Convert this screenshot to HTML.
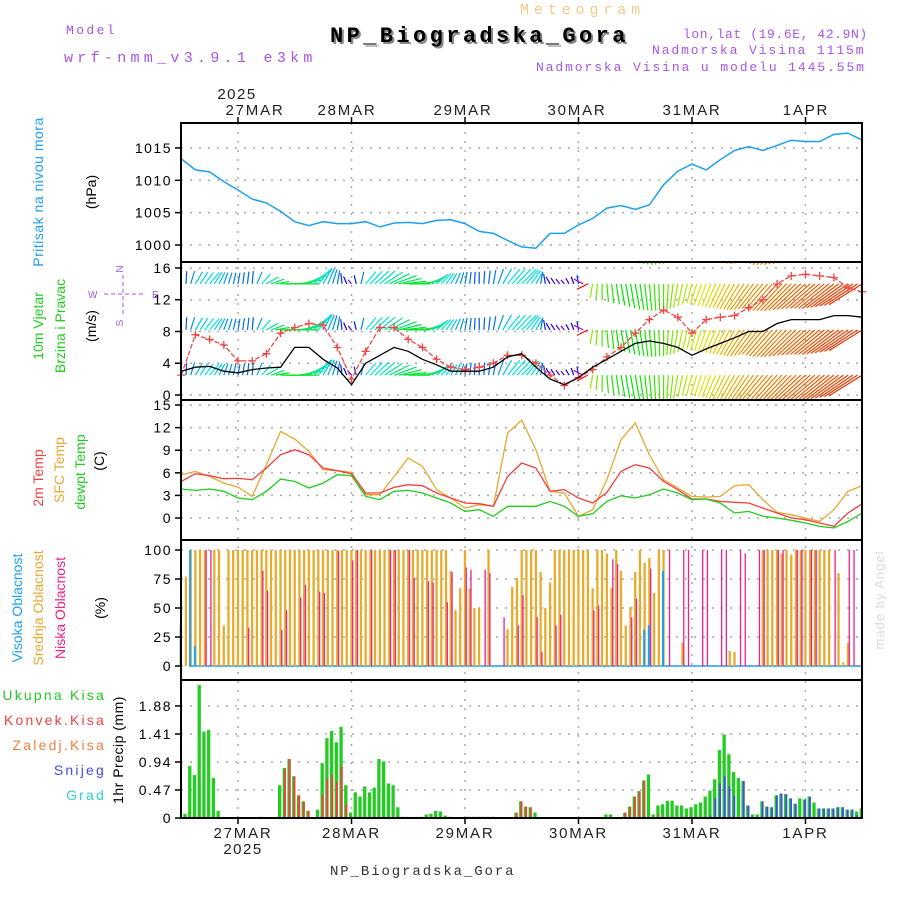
<!DOCTYPE html>
<html><head><meta charset="utf-8">
<style>
html,body{margin:0;padding:0;background:#fff;}
svg{display:block;}
text{font-family:"Liberation Sans",sans-serif;}
.mono{font-family:"Liberation Mono",monospace;}
</style></head>
<body>
<svg id="chart" xmlns="http://www.w3.org/2000/svg" width="900" height="900" viewBox="0 0 900 900">
<defs>
<clipPath id="clipWind"><rect x="181" y="262" width="681" height="138"/></clipPath>
</defs>
<g>
<text class="mono" x="66" y="34" fill="#a855e8" font-size="13" letter-spacing="2.4">Model</text>
<text class="mono" x="64" y="62" fill="#a855e8" font-size="15" letter-spacing="4.3">wrf-nmm_v3.9.1 e3km</text>
<text class="mono" x="520" y="14" fill="#f2c98a" font-size="15" letter-spacing="4.9">Meteogram</text>
<text class="mono" x="332" y="44" fill="#888" font-size="22" font-weight="bold" letter-spacing="3.4">NP_Biogradska_Gora</text>
<text class="mono" x="330" y="42" fill="#000" font-size="22" font-weight="bold" letter-spacing="3.4">NP_Biogradska_Gora</text>
<text class="mono" x="683" y="38" fill="#a855e8" font-size="13" letter-spacing="0.6">lon,lat (19.6E, 42.9N)</text>
<text class="mono" x="652" y="54" fill="#a855e8" font-size="13" letter-spacing="1.9">Nadmorska Visina 1115m</text>
<text class="mono" x="536" y="71" fill="#a855e8" font-size="13" letter-spacing="1.9">Nadmorska Visina u modelu 1445.55m</text>
<text x="237" y="99" fill="#222" font-size="15" text-anchor="middle" letter-spacing="1.5">2025</text>
<text x="243" y="854" fill="#222" font-size="15" text-anchor="middle" letter-spacing="1.5">2025</text>
<text class="mono" x="330" y="875" fill="#333" font-size="14" letter-spacing="1.9">NP_Biogradska_Gora</text>
<text transform="translate(884,600) rotate(-90)" fill="#d8dcd8" font-size="13" text-anchor="middle" letter-spacing="1">made by Angel</text>
</g>
<g font-size="14">
<text transform="translate(43,192) rotate(-90)" fill="#1e9ff0" text-anchor="middle" letter-spacing="0.5">Pritisak na nivou mora</text>
<text transform="translate(96,192) rotate(-90)" fill="#000" text-anchor="middle">(hPa)</text>
<text transform="translate(43,326) rotate(-90)" fill="#22cc22" text-anchor="middle">10m Vjetar</text>
<text transform="translate(65,326) rotate(-90)" fill="#22cc22" text-anchor="middle">Brzina i Pravac</text>
<text transform="translate(96,326) rotate(-90)" fill="#000" text-anchor="middle">(m/s)</text>
<g fill="#a855e8" font-size="10">
<text x="123" y="269" text-anchor="middle" transform="rotate(-90 123 269)">N</text>
<text x="88" y="298">W</text>
<text x="152" y="298">E</text>
<text x="123" y="323" text-anchor="middle" transform="rotate(-90 123 323)">S</text>
<line x1="104" y1="294" x2="146" y2="294" stroke="#a855e8" stroke-dasharray="4,3"/>
<line x1="123" y1="275" x2="123" y2="316" stroke="#a855e8" stroke-dasharray="4,3"/>
</g>
<text transform="translate(43,478) rotate(-90)" fill="#f04040" text-anchor="middle">2m Temp</text>
<text transform="translate(64,470) rotate(-90)" fill="#e8a830" text-anchor="middle">SFC Temp</text>
<text transform="translate(85,472) rotate(-90)" fill="#22cc22" text-anchor="middle">dewpt Temp</text>
<text transform="translate(104,461) rotate(-90)" fill="#000" text-anchor="middle">(C)</text>
<text transform="translate(22,608) rotate(-90)" fill="#1e9ff0" text-anchor="middle">Visoka Oblacnost</text>
<text transform="translate(43,608) rotate(-90)" fill="#e8a830" text-anchor="middle">Srednja Oblacnost</text>
<text transform="translate(65,608) rotate(-90)" fill="#f0208a" text-anchor="middle">Niska Oblacnost</text>
<text transform="translate(105,608) rotate(-90)" fill="#000" text-anchor="middle">(%)</text>
<text transform="translate(123,750) rotate(-90)" fill="#000" text-anchor="middle" letter-spacing="0.5">1hr Precip (mm)</text>
<g text-anchor="end" letter-spacing="2.2">
<text x="106" y="700" fill="#22cc22">Ukupna Kisa</text>
<text x="106" y="725" fill="#f04040">Konvek.Kisa</text>
<text x="106" y="750" fill="#f08040">Zaledj.Kisa</text>
<text x="106" y="775" fill="#4848f0">Snijeg</text>
<text x="106" y="800" fill="#30d0d0">Grad</text>
</g>
</g>
<g id="grid"></g>
<g id="marks"></g>
<g id="frame"></g>
</svg>
<script>
// ---- time axis (hours from 27MAR 00Z) ----
const dayLabels = ["27MAR","28MAR","29MAR","30MAR","31MAR","1APR"];
const dayLabelTopX = [255,347,463,577,692,806];
const t3Start = -12, t3Step = 3;
// ---- pressure (hPa), every 3h ----
const pressure = [1013.3,1011.6,1011.3,1009.8,1008.5,1007.1,1006.5,1005.2,1003.6,1003.0,1003.6,1003.3,1003.3,1003.6,1002.8,1003.4,1003.5,1003.3,1003.8,1003.9,1003.3,1002.1,1001.8,1000.7,999.7,999.5,1001.8,1001.8,1003.1,1004.1,1005.7,1006.1,1005.5,1006.2,1009.3,1011.4,1012.5,1011.6,1013.2,1014.6,1015.2,1014.6,1015.4,1016.2,1016.0,1016.0,1017.1,1017.3,1016.2];
const pressureTicks = [1000,1005,1010,1015];
// ---- wind ----
const windSpeed = [3.0,3.5,3.6,3.0,2.8,3.2,3.4,3.5,6.0,6.0,4.5,3.4,1.3,4.0,5.0,6.0,5.5,4.5,3.8,3.0,3.0,3.0,3.5,4.8,5.2,3.5,2.0,1.3,2.2,3.5,4.5,5.5,6.5,6.8,6.5,6.0,5.0,5.8,6.5,7.2,8.0,8.0,9.0,9.5,9.5,9.5,10,10,9.8];
const windGust = [2.5,7.6,7.0,6.3,4.3,4.3,5.2,7.8,8.5,9.0,8.8,6.0,2.0,5.5,8.5,8.5,7.0,6.0,4.5,3.5,3.2,3.5,4.0,5.0,5.0,4.0,2.5,1.2,2.2,3.2,4.8,6.0,7.8,9.5,10.7,9.8,7.8,9.5,9.8,10.0,11.0,12.0,14.0,15.0,15.2,15.0,14.8,13.5,13.0];
const windDir = [350,30,40,20,10,5,60,90,90,60,30,10,320,40,50,70,90,80,50,30,10,0,10,40,45,30,330,320,350,190,175,170,170,175,180,190,195,200,205,210,215,220,222,225,228,230,232,235,238];
const windTicks = [0,4,8,12,16];
const windRowLevels = [2.5,8.2,14.0,19.8];
// ---- temperature (C), every 3h ----
const temp2m = [4.86,5.88,5.62,5.22,5.26,5.09,6.64,8.41,9.07,8.41,6.64,6.28,5.88,3.32,3.32,4.07,4.42,4.29,3.32,2.65,1.99,1.90,1.55,5.53,7.30,6.64,3.54,3.76,2.65,1.99,3.40,6.19,7.08,6.64,4.86,3.76,2.52,2.52,2.21,2.08,1.99,1.32,0.66,0.0,-0.23,-0.67,-1.11,0.66,1.90];
const tempSfc = [5.75,6.19,5.53,4.64,4.11,2.87,7.08,11.5,10.49,8.85,6.41,6.28,6.06,3.09,3.09,5.53,7.96,6.86,3.76,2.65,1.32,1.77,1.55,11.28,13.0,9.07,3.54,3.32,0.22,1.10,5.09,10.40,12.61,8.41,5.09,3.98,2.87,2.78,2.87,4.29,4.42,2.43,0.75,0.44,0.0,-0.45,1.10,3.54,4.29];
const tempDew = [3.85,3.67,3.85,3.54,2.65,2.43,3.54,5.17,4.86,3.98,4.64,5.75,5.62,2.87,2.43,3.54,3.67,3.32,2.65,1.99,0.88,1.10,0.22,1.55,1.55,1.55,2.21,1.55,0.22,0.57,2.21,2.96,2.65,3.09,3.85,3.32,2.43,2.52,1.99,0.66,0.88,0.22,0.0,-0.31,-0.67,-1.11,-1.33,-0.45,0.66];
const tempTicks = [0,3,6,9,12,15];
// ---- clouds (%), hourly from t=-12 ----
const cloudHigh = [35,0,100,17,0,0,0,0,0,0,0,0,0,0,0,0,0,0,0,0,0,0,0,0,0,0,0,0,0,0,0,0,0,0,0,0,0,0,0,0,0,0,0,0,0,0,0,0,0,0,0,0,0,0,0,0,0,0,0,0,0,0,0,0,0,0,0,0,0,0,0,0,0,0,0,0,0,0,0,0,0,0,0,0,0,0,0,0,0,0,0,0,0,0,0,0,0,0,31,35,0,0,82,0,0,0,0,0,0,0,0,0,0,0,0,0,0,0,0,0,0,0,0,0,0,0,0,0,0,0,0,0,0,0,0,0,0,0,0,0,0,0,0,0,0];
const cloudMid = [0,77,100,100,100,100,0,100,100,35,100,100,100,100,100,100,100,100,100,100,100,100,100,100,100,100,100,100,100,100,100,100,100,100,100,100,100,100,100,100,100,100,100,100,100,100,100,100,100,100,100,100,100,100,100,100,100,82,48,67,100,67,50,50,0,100,0,0,0,32,68,76,100,100,100,100,81,50,72,100,100,100,100,100,100,100,100,67,100,100,97,67,100,82,35,51,81,100,89,93,63,100,100,0,0,0,20,0,0,0,0,0,0,0,0,0,13,12,0,0,0,0,0,100,100,100,100,97,100,96,100,100,100,100,100,100,100,100,0,80,3,20,0,0,0];
const cloudLow = [0,0,0,0,0,100,100,0,0,0,0,0,0,0,33,0,0,82,65,0,0,31,48,0,0,59,70,0,0,64,63,0,0,99,0,0,91,100,0,0,100,0,0,0,100,100,0,0,100,76,0,0,73,72,0,0,55,81,0,0,85,83,0,0,83,80,0,0,42,0,0,35,61,0,0,42,12,0,0,35,44,0,0,0,1,0,0,48,52,0,0,92,88,0,0,42,58,0,0,84,0,0,0,100,0,0,100,100,0,0,100,100,0,0,100,100,0,0,100,97,0,0,100,100,0,0,100,100,0,0,100,100,0,100,100,0,0,0,100,0,0,100,100,0,0];
const cloudTicks = [0,25,50,75,100];
// ---- precipitation (mm/h), hourly from t=-12 ----
const precipTotal = [0,0.07,0.87,0.72,2.23,1.45,1.48,0.67,0.12,0,0,0,0,0,0,0,0,0.02,0,0,0,0.55,0.84,0.99,0.70,0.38,0.28,0.12,0,0.14,0.92,1.34,1.46,1.27,1.53,0.55,0.09,0.43,0.36,0.53,0.43,0.51,0.99,0.95,0.58,0.55,0.18,0.02,0.02,0,0.02,0.02,0.06,0.07,0.12,0.11,0.04,0.02,0,0,0,0.02,0.02,0.02,0.02,0.02,0.02,0,0,0,0,0.09,0.28,0.19,0.18,0.09,0,0.01,0,0,0,0,0,0,0,0,0,0,0,0,0.06,0.06,0,0,0.09,0.19,0.36,0.45,0.63,0.73,0.06,0.21,0.23,0.29,0.29,0.21,0.21,0.16,0.18,0.23,0.26,0.36,0.46,0.65,1.14,1.40,1.07,0.77,0.67,0.62,0.21,0.06,0.06,0.28,0.19,0.18,0.38,0.41,0.40,0.33,0.24,0.33,0.31,0.36,0.26,0.16,0.16,0.16,0.16,0.18,0.18,0.14,0.14,0.11,0.16];
const precipConv = [0,0,0,0,0,0,0,0,0,0,0,0,0,0,0,0,0,0,0,0,0,0,0.82,0.99,0.70,0.38,0.27,0.12,0,0,0.40,0.65,0.72,0.60,0.87,0.23,0,0,0,0,0,0,0.02,0,0,0,0,0,0,0,0,0,0,0,0,0,0,0,0,0,0,0,0,0,0,0,0,0,0,0,0,0.09,0.28,0.19,0.18,0,0,0,0,0,0,0,0,0,0,0,0,0,0,0,0,0,0,0,0.09,0.19,0.36,0.45,0.63,0,0,0.06,0,0,0,0,0,0,0,0,0,0,0,0,0,0,0,0,0,0,0,0,0,0,0,0,0,0,0,0,0,0,0,0,0,0,0,0,0,0,0,0,0,0,0,0];
const precipSnow = [0,0,0,0,0,0,0,0,0,0,0,0,0,0,0,0,0,0,0,0,0,0,0,0,0,0,0,0,0,0,0,0,0,0,0,0,0,0,0,0,0,0,0,0,0,0,0,0,0,0,0,0,0,0,0,0,0,0,0,0,0,0,0,0,0,0,0,0,0,0,0,0,0,0,0,0,0,0,0,0,0,0,0,0,0,0,0,0,0,0,0,0,0,0,0,0,0,0,0,0,0,0,0,0,0,0,0,0,0,0,0,0.02,0.04,0.33,0.58,0.70,0.53,0.38,0,0.62,0.21,0,0,0.28,0.19,0.18,0.38,0.41,0.40,0.33,0.24,0,0.31,0.36,0,0.16,0.16,0.16,0.16,0.18,0.18,0.14,0.14,0.05,0];
const precipTicks = [0,0.47,0.94,1.41,1.88];

// ---- scales ----
const X0 = 181, X1 = 862;
const xs = t => 238 + t * 4.729;
const ps = v => 245 - (v - 1000) * 6.47;
const wsc = v => 395 - v * 7.94;
const ts = v => 518 - v * 7.53;
const cs = v => 666 - v * 1.16;
const prs = v => 818 - v * 59.6;
const NS = "http://www.w3.org/2000/svg";
function mk(tag, attrs, parent) {
  const el = document.createElementNS(NS, tag);
  for (const k in attrs) el.setAttribute(k, attrs[k]);
  parent.appendChild(el);
  return el;
}
const grid = document.getElementById('grid');
const marks = document.getElementById('marks');
const frame = document.getElementById('frame');
const panels = [
  {name:'pressure', ticks:pressureTicks, sc:ps, fmt:v=>String(v)},
  {name:'wind', ticks:windTicks, sc:wsc, fmt:v=>String(v)},
  {name:'temp', ticks:tempTicks, sc:ts, fmt:v=>String(v)},
  {name:'cloud', ticks:cloudTicks, sc:cs, fmt:v=>String(v)},
  {name:'precip', ticks:precipTicks, sc:prs, fmt:v=>v===0?'0':v.toFixed(2)}
];
panels.forEach(p => {
  p.ticks.forEach(v => {
    const y = p.sc(v);
    const gl = mk('line', {x1:X0, x2:X1, y1:y, y2:y, stroke:'#aaa', 'stroke-width':1.5, 'stroke-dasharray':'2,7'}, grid);
    
    
    const tk = mk('line', {x1:X0-6, x2:X0, y1:y, y2:y, stroke:'#000', 'stroke-width':1.5}, frame);
    
    
    const tl = mk('text', {x:X0-9, y:y+5, 'font-size':14, 'text-anchor':'end', fill:'#000', 'letter-spacing':1.5}, frame);
    tl.textContent = p.fmt(v);
    
    
  });
});
dayLabels.forEach((d, i) => {
  const x = xs(24 * i);
  const vl = mk('line', {x1:x, x2:x, y1:123, y2:818, stroke:'#aaa', 'stroke-width':1.5, 'stroke-dasharray':'2,7'}, grid);
  
  
  const t1 = mk('text', {x:dayLabelTopX[i], y:115, 'font-size':15, 'text-anchor':'middle', fill:'#222', 'letter-spacing':1.8}, frame);
  t1.textContent = d;
  
  
  const t2 = mk('text', {x:i===0?dayLabelTopX[0]-12:x, y:838, 'font-size':15, 'text-anchor':'middle', fill:'#222', 'letter-spacing':1.8}, frame);
  t2.textContent = d;
  
  
  [[117,123],[818,824]].forEach(([a,b]) => {
    const tk = mk('line', {x1:x, x2:x, y1:a, y2:b, stroke:'#000', 'stroke-width':1.5}, frame);
    
    
  });
});
const fr = mk('rect', {x:X0, y:123, width:X1-X0, height:695, fill:'none', stroke:'#000', 'stroke-width':2}, frame);


[262,400,540,680].forEach(y => {
  const l = mk('line', {x1:X0, x2:X1, y1:y, y2:y, stroke:'#000', 'stroke-width':2}, frame);
  
  
});
const t3 = i => t3Start + i * t3Step;
function linePath(arr, sc) {
  return arr.map((v, i) => (i ? 'L' : 'M') + xs(t3(i)).toFixed(1) + ',' + sc(v).toFixed(1)).join('');
}
const pl = mk('path', {d:linePath(pressure, ps), fill:'none', stroke:'#1ea0f0', 'stroke-width':1.5}, marks);


function hueFor(d) {
  const stops = [[0,220],[90,125],[170,120],[200,60],[225,30],[260,-15],[300,-80],[330,-110],[360,-140]];
  d = ((d % 360) + 360) % 360;
  for (let i = 1; i < stops.length; i++) {
    if (d <= stops[i][0]) {
      const f = (d - stops[i-1][0]) / (stops[i][0] - stops[i-1][0]);
      return ((stops[i-1][1] + f * (stops[i][1] - stops[i-1][1])) + 360) % 360;
    }
  }
  return 220;
}
const wg = mk('g', {'clip-path':'url(#clipWind)'}, marks);


for (let h = 0; h <= 144; h++) {
  const t = h - 12;
  const fi = (t - t3Start) / t3Step;
  const i0 = Math.min(Math.floor(fi), windDir.length - 2);
  const f = fi - i0;
  let d0 = windDir[i0], d1 = windDir[i0+1];
  let dd = d1 - d0; if (dd > 180) dd -= 360; if (dd < -180) dd += 360;
  const dir = d0 + f * dd;
  const spd = windSpeed[i0] + f * (windSpeed[i0+1] - windSpeed[i0]);
  const rad = dir * Math.PI / 180;
  const dx = Math.sin(rad) * spd * 4, dy = -Math.cos(rad) * spd * 4;
  const col = 'hsl(' + hueFor(dir).toFixed(0) + ',100%,45%)';
  windRowLevels.forEach(lv => {
    const x = xs(t), y = wsc(lv);
    const a = mk('line', {x1:x, y1:y, x2:x+dx, y2:y+dy, stroke:col, 'stroke-width':1.2}, wg);
    
    
  });
}
const gl = mk('path', {d:linePath(windGust, wsc), fill:'none', stroke:'#f04848', 'stroke-width':1.3, 'stroke-dasharray':'5,2'}, marks);


windGust.forEach((v, i) => {
  const x = xs(t3(i)), y = wsc(v);
  const m = mk('path', {d:`M${x-4},${y}H${x+4}M${x},${y-4}V${y+4}`, stroke:'#f04848', 'stroke-width':1.3}, marks);
  
  
});
const sl = mk('path', {d:linePath(windSpeed, wsc), fill:'none', stroke:'#000', 'stroke-width':1.3}, marks);


[[tempSfc,'#e8a830','sfc-temp-line'],[temp2m,'#f04040','temp-2m-line'],[tempDew,'#22cc22','dewpoint-line']].forEach(([arr,c,n]) => {
  const l = mk('path', {d:linePath(arr, ts), fill:'none', stroke:c, 'stroke-width':1.3}, marks);
  
  
});
const cb = mk('line', {x1:X0+8, x2:X1, y1:cs(0), y2:cs(0), stroke:'#1ea0f0', 'stroke-width':1.5}, marks);


for (let h = 0; h <= 144; h++) {
  const x = xs(h - 12);
  if (cloudMid[h] > 0) {
    const r = mk('rect', {x:x-1.2, y:cs(cloudMid[h]), width:2.3, height:cs(0)-cs(cloudMid[h]), fill:'#e8ab2c'}, marks);
    
    
  }
  if (cloudLow[h] > 0) {
    const r = mk('rect', {x:x+0.6, y:cs(cloudLow[h]), width:1.3, height:cs(0)-cs(cloudLow[h]), fill:'#f0208a'}, marks);
    
    
  }
  if (cloudHigh[h] > 0) {
    const r = mk('rect', {x:x-1.6, y:cs(cloudHigh[h]), width:2, height:cs(0)-cs(cloudHigh[h]), fill:'#1e9ff0'}, marks);
    
    
  }
}
for (let h = 0; h <= 144; h++) {
  const x = xs(h - 12) - 1;
  if (precipTotal[h] > 0) {
    const r = mk('rect', {x:x-1.6, y:prs(precipTotal[h]), width:3.3, height:prs(0)-prs(precipTotal[h]), fill:'#22cc22'}, marks);
    
    
  }
  if (precipConv[h] > 0) {
    const r = mk('rect', {x:x-0.4, y:prs(precipConv[h]), width:2, height:prs(0)-prs(precipConv[h]), fill:'#f04040'}, marks);
    
    
  }
  if (precipSnow[h] > 0) {
    const r = mk('rect', {x:x-0.2, y:prs(precipSnow[h]), width:1.8, height:prs(0)-prs(precipSnow[h]), fill:'#4848f0'}, marks);
    
    
  }
}
</script>
</body></html>
